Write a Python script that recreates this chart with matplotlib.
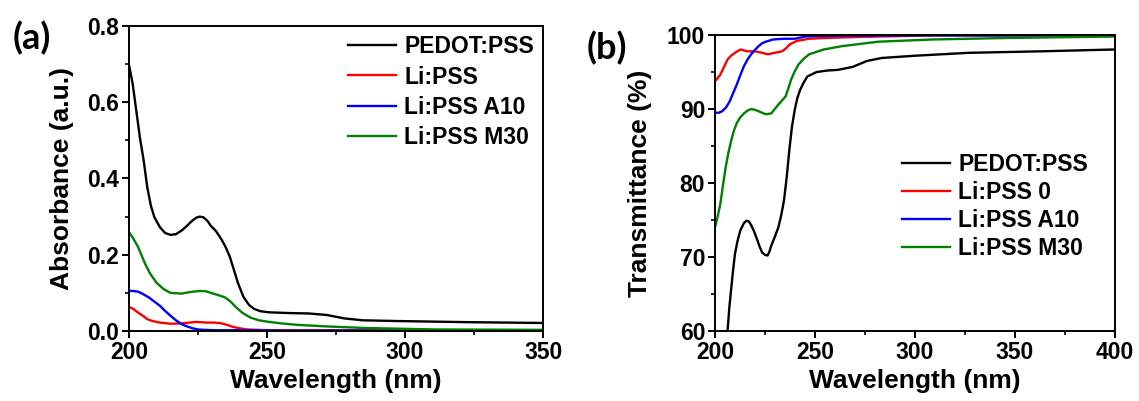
import matplotlib.pyplot as plt
from matplotlib.ticker import MultipleLocator

plt.rcParams['font.family'] = ['Liberation Sans', 'DejaVu Sans']
plt.rcParams['font.weight'] = 'bold'

# ---- panel (a): absorbance ----
wlPedotA = [200, 201.3, 202.6, 203.9, 205.3, 206.6, 207.9, 209.2, 211.2, 213.1, 215.1, 217, 219, 221,
            223, 224.3, 225.6, 227, 228.5, 229.6, 231.5, 233.5, 235, 236.5, 238, 239.5, 241.4, 243.5,
            245.3, 247.5, 250.6, 258, 265, 271.6, 278, 284.7, 297.9, 324, 350]
absPedot = [0.697, 0.649, 0.579, 0.509, 0.447, 0.377, 0.329, 0.298, 0.272, 0.257, 0.252, 0.254, 0.263,
            0.276, 0.29, 0.297, 0.30, 0.298, 0.288, 0.276, 0.262, 0.24, 0.22, 0.195, 0.16, 0.125,
            0.09, 0.068, 0.058, 0.052, 0.049, 0.047, 0.046, 0.042, 0.033, 0.028, 0.026, 0.023, 0.021]

wlM30A = [200, 201.5, 203.3, 204.6, 205.9, 207.5, 209.9, 212.5, 215, 219, 222, 225.6, 228, 229.6, 232,
          234.8, 236.8, 238.8, 241, 244, 247, 250.6, 255, 261, 271.6, 284.7, 311, 350]
absM30 = [0.259, 0.243, 0.22, 0.197, 0.175, 0.152, 0.127, 0.11, 0.1, 0.098, 0.102, 0.105, 0.104, 0.10,
          0.095, 0.088, 0.077, 0.062, 0.048, 0.035, 0.028, 0.024, 0.02, 0.016, 0.012, 0.008, 0.004,
          0.003]

wlA10A = [200, 201.5, 203.3, 205, 207.2, 209, 211.2, 213, 215, 217, 219, 221, 223, 225, 227, 231, 240,
          260, 350]
absA10 = [0.105, 0.105, 0.103, 0.097, 0.088, 0.078, 0.066, 0.053, 0.04, 0.028, 0.018, 0.012, 0.007,
          0.004, 0.003, 0.002, 0.002, 0.001, 0.001]

wlLiA = [200, 201.5, 203.3, 205, 206.6, 208.5, 211.2, 215, 219, 222, 224.3, 226, 228.3, 231, 233.5, 235.5,
         237.5, 240, 242.7, 250, 280, 350]
absLi = [0.063, 0.058, 0.048, 0.04, 0.031, 0.026, 0.022, 0.019, 0.02, 0.022, 0.024, 0.023, 0.022, 0.022,
         0.02, 0.016, 0.011, 0.007, 0.004, 0.002, 0.002, 0.001]

# ---- panel (b): transmittance ----
wlPedotB = [206.3, 207.2, 208.2, 209.1, 210, 211.3, 212.7, 214.5, 215.8, 217, 218.1, 219.5, 220.9,
            222.2, 223.6, 225, 226.3, 227.2, 228.1, 229.9, 231.7, 233.1, 234.5, 235.8, 237.2, 238.5,
            239.9, 241.2, 242.6, 244.4, 246.2, 250.8, 256, 261.6, 268.9, 276, 283.4, 299.7, 327, 363,
            400]
trPedot = [60, 63.2, 65.9, 68.3, 70.4, 72.2, 73.6, 74.6, 74.9, 74.8, 74.3, 73.5, 72.5, 71.5, 70.6,
           70.3, 70.2, 70.7, 71.5, 72.7, 74, 75.6, 77.6, 80.6, 84.5, 87.6, 89.9, 91.5, 92.6, 93.6,
           94.4, 95, 95.2, 95.3, 95.7, 96.5, 96.9, 97.2, 97.6, 97.8, 98.05]

wlLiB = [200, 202.7, 204.5, 206.3, 208, 210, 212.7, 216.3, 219.9, 223.6, 226.3, 229.9, 233.5, 235.5,
         237.2, 240.8, 247.1, 254.4, 272.5, 308.8, 400]
trLi = [93.75, 94.65, 95.7, 96.7, 97.2, 97.6, 98.05, 97.8, 97.8, 97.6, 97.4, 97.6, 97.8, 98.2, 98.7,
        99.2, 99.5, 99.6, 99.75, 99.95, 99.95]

wlA10B = [200, 202, 203.6, 205.5, 207.3, 209, 210.9, 212.7, 214.5, 216.3, 218.1, 220, 221.8, 223.6,
          225.4, 229, 234.5, 239.9, 245.3, 254.4, 300, 400]
trA10 = [89.5, 89.5, 89.7, 90.2, 91, 92.1, 93.3, 94.6, 95.8, 96.7, 97.4, 98, 98.5, 98.9, 99.1, 99.4,
         99.5, 99.5, 99.8, 99.9, 99.95, 99.95]

wlM30B = [200, 201.3, 202.7, 204, 205.4, 206.8, 208.2, 209.5, 210.9, 212.7, 214.5, 216.3, 218.1, 220,
          221.8, 223.6, 225.4, 228.1, 231.7, 235.3, 236.7, 238.1, 239.9, 241.7, 244.4, 247.1, 254.4,
          263.5, 281.6, 308.8, 345, 400]
trM30 = [74.0, 75.4, 77.2, 79.7, 82.2, 84.2, 85.8, 87.1, 88.1, 88.9, 89.4, 89.8, 90.0, 89.9, 89.7,
         89.5, 89.3, 89.4, 90.6, 91.7, 92.8, 94, 95.1, 96, 96.8, 97.4, 98.05, 98.5, 99.1, 99.4, 99.6,
         99.8]

fig = plt.figure(figsize=(11.39, 4.01), dpi=100)
axA = fig.add_axes([0.1133, 0.1746, 0.3635, 0.7606])
axB = fig.add_axes([0.6277, 0.1746, 0.3512, 0.738])

lw = 1.7
axA.plot(wlPedotA, absPedot, color='black', lw=lw, label='PEDOT:PSS')
axA.plot(wlLiA, absLi, color='red', lw=lw, label='Li:PSS')
axA.plot(wlA10A, absA10, color='blue', lw=lw, label='Li:PSS A10')
axA.plot(wlM30A, absM30, color='green', lw=lw, label='Li:PSS M30')
axA.set_xlim(200, 350)
axA.set_ylim(0, 0.8)
axA.xaxis.set_major_locator(MultipleLocator(50))
axA.xaxis.set_minor_locator(MultipleLocator(25))
axA.yaxis.set_major_locator(MultipleLocator(0.2))
axA.yaxis.set_minor_locator(MultipleLocator(0.1))
axA.yaxis.set_major_formatter(lambda v, pos: f"{v:.1f}")
axA.set_xlabel('Wavelength (nm)', fontsize=19, fontweight='bold', labelpad=4)
axA.set_ylabel('Absorbance (a.u.)', fontsize=19, fontweight='bold', labelpad=10)
axA.legend(loc='center right', bbox_to_anchor=(1.0, 0.783), borderaxespad=0, frameon=False,
           fontsize=16.5, handlelength=2.1, handletextpad=0.36, labelspacing=0.32)

axB.plot(wlPedotB, trPedot, color='black', lw=lw, label='PEDOT:PSS')
axB.plot(wlLiB, trLi, color='red', lw=lw, label='Li:PSS 0')
axB.plot(wlA10B, trA10, color='blue', lw=lw, label='Li:PSS A10')
axB.plot(wlM30B, trM30, color='green', lw=lw, label='Li:PSS M30')
axB.set_xlim(200, 400)
axB.set_ylim(60, 100)
axB.xaxis.set_major_locator(MultipleLocator(50))
axB.xaxis.set_minor_locator(MultipleLocator(25))
axB.yaxis.set_major_locator(MultipleLocator(10))
axB.yaxis.set_minor_locator(MultipleLocator(5))
axB.set_xlabel('Wavelength (nm)', fontsize=19, fontweight='bold', labelpad=4)
axB.set_ylabel('Transmittance (%)', fontsize=19, fontweight='bold', labelpad=11)
axB.legend(loc='center right', bbox_to_anchor=(0.955, 0.42), borderaxespad=0, frameon=False,
           fontsize=16.5, handlelength=2.1, handletextpad=0.36, labelspacing=0.22)

for ax in (axA, axB):
    for s in ax.spines.values():
        s.set_linewidth(1.4)
    ax.tick_params(which='major', direction='out', length=5, width=1.4, labelsize=16.5, pad=2)
    ax.tick_params(which='minor', direction='out', length=3, width=1.2)
    ax.tick_params(top=False, right=False, which='both')
    for lab in ax.get_xticklabels() + ax.get_yticklabels():
        lab.set_fontweight('bold')

fig.text(0.028, 0.905, '(a)', fontsize=26, fontweight='bold', family=['Lato', 'DejaVu Sans'],
         ha='center', va='center')
fig.text(0.533, 0.88, '(b)', fontsize=26, fontweight='bold', family=['Lato', 'DejaVu Sans'],
         ha='center', va='center')

fig.savefig('out.png', dpi=100)
